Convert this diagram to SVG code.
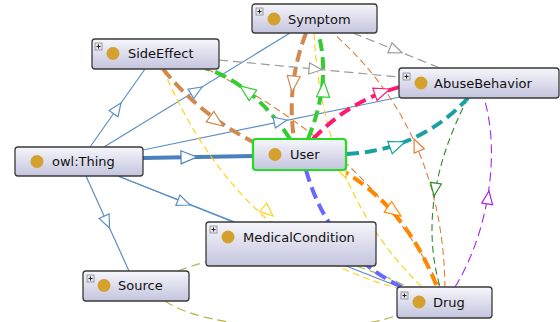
<svg xmlns="http://www.w3.org/2000/svg" xmlns:xlink="http://www.w3.org/1999/xlink" width="560" height="322" viewBox="0 0 560 322">
<style>
.box{fill:url(#g);stroke:#3a3a3a;stroke-width:1.3}
.user{fill:url(#g);stroke:#22dd22;stroke-width:2.2}
.dot{fill:#d4a02e}
.lbl{font-family:"DejaVu Sans",sans-serif;font-size:13px;fill:#111}
.pb{fill:#e4e4ea;stroke:#8a8a98;stroke-width:0.8}
.pl{stroke:#222;stroke-width:1}
.e{fill:none}
.b{stroke:#5b8fc5;stroke-width:1.2}
.bt{stroke:#4a80bc;stroke-width:4}
.gr{stroke:#9a9a9a;stroke-width:1.2;stroke-dasharray:9 5}
.br{stroke:#cf8a4f;stroke-width:4;stroke-dasharray:12 6}
.gn{stroke:#33cc33;stroke-width:4;stroke-dasharray:12 6}
.ye{stroke:#ffd21f;stroke-width:1.2;stroke-dasharray:7 4}
.bn{stroke:#dd7f3c;stroke-width:1.1;stroke-dasharray:7 4}
.or{stroke:#ff8800;stroke-width:4;stroke-dasharray:12 6}
.mg{stroke:#ff1a70;stroke-width:4;stroke-dasharray:12 6}
.tl{stroke:#1aa0a0;stroke-width:4;stroke-dasharray:12 6}
.bp{stroke:#6868ff;stroke-width:4;stroke-dasharray:12 6}
.dg{stroke:#2e8b2e;stroke-width:1.1;stroke-dasharray:7 4}
.pu{stroke:#a526e8;stroke-width:1.1;stroke-dasharray:9 5}
.ol{stroke:#b5b552;stroke-width:1.2;stroke-dasharray:9 5}
.ar{fill:#fff;stroke-width:1.2}
</style>
<defs>
<linearGradient id="g" x1="0" y1="0" x2="0" y2="1">
<stop offset="0" stop-color="#f6f6fb"/>
<stop offset="1" stop-color="#c4c4de"/>
</linearGradient>
<path id="a" d="M0,0 L-13,-5.5 L-13,5.5 Z"/>
<path id="A" d="M0,0 L-16,-6.5 L-16,6.5 Z"/>
<g id="plus"><rect class="pb" x="0" y="0" width="7" height="7"/><path class="pl" d="M1.5,3.5 H5.5 M3.5,1.5 V5.5"/></g>
</defs>

<g id="connectors">
<!-- owl:Thing subclass edges -->
<path class="e b" d="M90,147 L145,69"/>
<path class="e b" d="M104,147 L290,33"/>
<path class="e b" d="M143,150 L400,97"/>
<path class="e bt" d="M143,158 L253,156"/>
<path class="e b" d="M118,176 L402,288"/>
<path class="e b" d="M118,176 L233,222"/>
<path class="e b" d="M86,176 L129,271"/>
<!-- gray -->
<path class="e gr" d="M219,60 L399,77"/>
<path class="e gr" d="M353,33 L440,68"/>
<!-- thin coloured -->
<path class="e ye" d="M163,69 Q240,250 405,290"/>
<path class="e ye" d="M314,33 Q322,190 422,287"/>
<path class="e bn" d="M207,69 Q370,150 440,287"/>
<path class="e bn" d="M445,288 Q443,130 333,33"/>
<path class="e dg" d="M468,98 Q415,200 440,287"/>
<path class="e pu" d="M455,287 C490,230 500,150 484,98"/>
<path class="e ol" d="M178,271 Q290,228 410,288"/>
<path class="e ol" d="M165,301 C210,332 350,336 400,314"/>
<!-- thick coloured -->
<path class="e bp" d="M306,170 Q330,255 408,290"/>
<path class="e br" d="M163,69 Q200,115 255,143"/>
<path class="e br" d="M306,33 Q286,85 294,139"/>
<path class="e gn" d="M290,139 Q255,85 205,68"/>
<path class="e gn" d="M308,139 Q332,80 318,33"/>
<path class="e mg" d="M313,139 Q350,100 400,87"/>
<path class="e tl" d="M347,154 Q420,150 468,98"/>
<path class="e or" d="M338,168 Q405,205 437,287"/>
<!-- arrowheads -->
<use xlink:href="#a" class="ar" stroke="#5b8fc5" transform="translate(121,103) rotate(-54.8)"/>
<use xlink:href="#a" class="ar" stroke="#5b8fc5" transform="translate(202,87) rotate(-31.5)"/>
<use xlink:href="#a" class="ar" stroke="#5b8fc5" transform="translate(287,120) rotate(-11.6)"/>
<use xlink:href="#A" class="ar" stroke="#4a80bc" transform="translate(197,157) rotate(-1)"/>
<use xlink:href="#a" class="ar" stroke="#5b8fc5" transform="translate(190,205) rotate(21.8)"/>
<use xlink:href="#a" class="ar" stroke="#5b8fc5" transform="translate(109.5,228) rotate(65.6)"/>
<use xlink:href="#a" class="ar" stroke="#9a9a9a" transform="translate(322,69.7) rotate(5.4)"/>
<use xlink:href="#a" class="ar" stroke="#9a9a9a" transform="translate(402,52.7) rotate(21.9)"/>
<use xlink:href="#a" class="ar" stroke="#ffd21f" transform="translate(273,216) rotate(41)"/>
<use xlink:href="#a" class="ar" stroke="#ffd21f" transform="translate(346,178) rotate(67)"/>
<use xlink:href="#a" class="ar" stroke="#dd7f3c" transform="translate(414,139) rotate(-113.7)"/>
<use xlink:href="#a" class="ar" stroke="#2e8b2e" transform="translate(434,196) rotate(98.4)"/>
<use xlink:href="#a" class="ar" stroke="#a526e8" transform="translate(489,191) rotate(-81.7)"/>
<use xlink:href="#A" class="ar" stroke="#cf8a4f" transform="translate(223,126) rotate(36)"/>
<use xlink:href="#A" class="ar" stroke="#cf8a4f" transform="translate(292,92) rotate(96)"/>
<use xlink:href="#A" class="ar" stroke="#33cc33" transform="translate(240,86) rotate(-144)"/>
<use xlink:href="#A" class="ar" stroke="#33cc33" transform="translate(324,81) rotate(-86.6)"/>
<use xlink:href="#A" class="ar" stroke="#ff1a70" transform="translate(390,89) rotate(-19.4)"/>
<use xlink:href="#A" class="ar" stroke="#1aa0a0" transform="translate(405,142) rotate(-20.2)"/>
<use xlink:href="#A" class="ar" stroke="#ff8800" transform="translate(401,216) rotate(35)"/>
</g>

<g id="Symptom">
<rect class="box" x="252" y="4" width="125" height="29" rx="3"/>
<use xlink:href="#plus" x="256" y="8"/>
<circle class="dot" cx="274" cy="19" r="6.5"/>
<text class="lbl" x="288" y="23.5">Symptom</text>
</g>
<g id="SideEffect">
<rect class="box" x="92" y="39" width="127" height="30" rx="3"/>
<use xlink:href="#plus" x="95" y="43"/>
<circle class="dot" cx="113" cy="53.5" r="6.5"/>
<text class="lbl" x="128" y="58">SideEffect</text>
</g>
<g id="AbuseBehavior">
<rect class="box" x="399" y="68" width="160" height="30" rx="3"/>
<use xlink:href="#plus" x="403" y="73"/>
<circle class="dot" cx="421" cy="83" r="6.5"/>
<text class="lbl" x="434" y="88">AbuseBehavior</text>
</g>
<g id="owlThing">
<rect class="box" x="15" y="147" width="128" height="29" rx="3"/>
<circle class="dot" cx="37" cy="161.5" r="6.5"/>
<text class="lbl" x="52" y="166">owl:Thing</text>
</g>
<g id="User">
<rect class="user" x="253" y="139" width="93" height="31" rx="3"/>
<circle class="dot" cx="275" cy="154.5" r="6.5"/>
<text class="lbl" x="290" y="159">User</text>
</g>
<g id="MedicalCondition">
<rect class="box" x="206" y="222" width="170" height="44" rx="3"/>
<use xlink:href="#plus" x="210" y="226"/>
<circle class="dot" cx="228" cy="237" r="6.5"/>
<text class="lbl" x="243" y="241.5">MedicalCondition</text>
</g>
<g id="Source">
<rect class="box" x="83" y="271" width="106" height="30" rx="3"/>
<use xlink:href="#plus" x="87" y="275"/>
<circle class="dot" cx="104" cy="285.5" r="6.5"/>
<text class="lbl" x="118" y="290">Source</text>
</g>
<g id="Drug">
<rect class="box" x="397" y="287" width="95" height="31" rx="3"/>
<use xlink:href="#plus" x="401" y="292"/>
<circle class="dot" cx="419" cy="302" r="6.5"/>
<text class="lbl" x="433" y="307">Drug</text>
</g>
</svg>
